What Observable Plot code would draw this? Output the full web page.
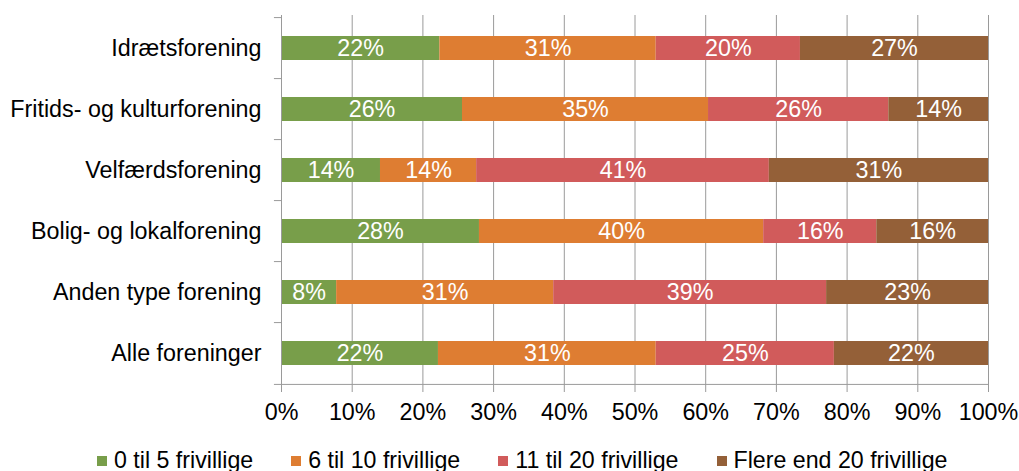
<!DOCTYPE html>
<html>
<head>
<meta charset="utf-8">
<script src="https://cdn.jsdelivr.net/npm/d3@7"></script>
<script src="https://cdn.jsdelivr.net/npm/@observablehq/plot@0.6"></script>
<style>
html, body { margin: 0; padding: 0; background: #fff; overflow: hidden; }
#legend { display: flex; align-items: center; padding-left: 97px; padding-top: 19px; gap: 38px;
  font: 23.2px "Liberation Sans", Arial, sans-serif; line-height: 23px; color: #000; white-space: nowrap; }
#legend .item { display: flex; align-items: center; }
#legend .sw { width: 10px; height: 10px; margin-right: 7px; }
</style>
</head>
<body>
<div id="chart"></div>
<div id="legend"></div>
<script>
const categories = ["Idrætsforening", "Fritids- og kulturforening", "Velfærdsforening", "Bolig- og lokalforening", "Anden type forening", "Alle foreninger"];
const seriesNames = ["0 til 5 frivillige", "6 til 10 frivillige", "11 til 20 frivillige", "Flere end 20 frivillige"];
const seriesColors = ["#789E4A", "#DE7D32", "#D15B5B", "#946038"];
const values0to5 = [22.4, 25.6, 14.0, 28.0, 7.8, 22.2];
const values6to10 = [30.6, 34.8, 13.6, 40.2, 30.7, 30.8];
const values11to20 = [20.4, 25.5, 41.4, 16.0, 38.6, 25.2];
const valuesOver20 = [26.6, 14.1, 31.0, 15.8, 22.9, 21.8];
const xTicks = [0, 10, 20, 30, 40, 50, 60, 70, 80, 90, 100];

const seriesValues = [values0to5, values6to10, values11to20, valuesOver20];
const data = [];
categories.forEach((c, i) => {
  seriesNames.forEach((s, j) => data.push({category: c, series: s, value: seriesValues[j][i]}));
});

const W = 1019, H = 430, mT = 15, mB = 44, mL = 281, mR = 31;
const step = (H - mT - mB) / categories.length;
const grid = "#9a9a9a";
const font = '"Liberation Sans", Arial, sans-serif';

const chart = Plot.plot({
  width: W, height: H,
  marginTop: mT, marginBottom: mB, marginLeft: mL, marginRight: mR,
  style: {fontFamily: font, fontSize: "23.3px", color: "#000", background: "#fff"},
  x: {domain: [0, 100]},
  y: {domain: categories, paddingInner: 0.61, paddingOuter: 0.305},
  color: {domain: seriesNames, range: seriesColors},
  marks: [
    Plot.ruleX(xTicks, {stroke: grid}),
    Plot.barX(data, {x: "value", y: "category", fill: "series"}),
    Plot.text(data, Plot.stackX({x: "value", y: "category", z: "series",
      text: d => Math.round(d.value) + "%", fill: "white"})),
    Plot.ruleY(categories, {y: d => d, x1: -1, x2: 0, dy: -step / 2, stroke: grid}),
    Plot.ruleY([categories[categories.length - 1]], {y: d => d, x1: -1, x2: 100, dy: step / 2, stroke: grid}),
    Plot.ruleX([0], {stroke: grid}),
    Plot.axisX({ticks: xTicks, tickFormat: d => d + "%", tickSize: 6, tickPadding: 11, stroke: grid, label: null}),
    Plot.axisY({tickSize: 0, tickPadding: 20, label: null})
  ]
});
document.getElementById("chart").appendChild(chart);

const legend = document.getElementById("legend");
seriesNames.forEach((s, j) => {
  const item = document.createElement("div");
  item.className = "item";
  const sw = document.createElement("div");
  sw.className = "sw";
  sw.style.background = seriesColors[j];
  const t = document.createElement("span");
  t.textContent = s;
  item.appendChild(sw);
  item.appendChild(t);
  legend.appendChild(item);
});
</script>
</body>
</html>
